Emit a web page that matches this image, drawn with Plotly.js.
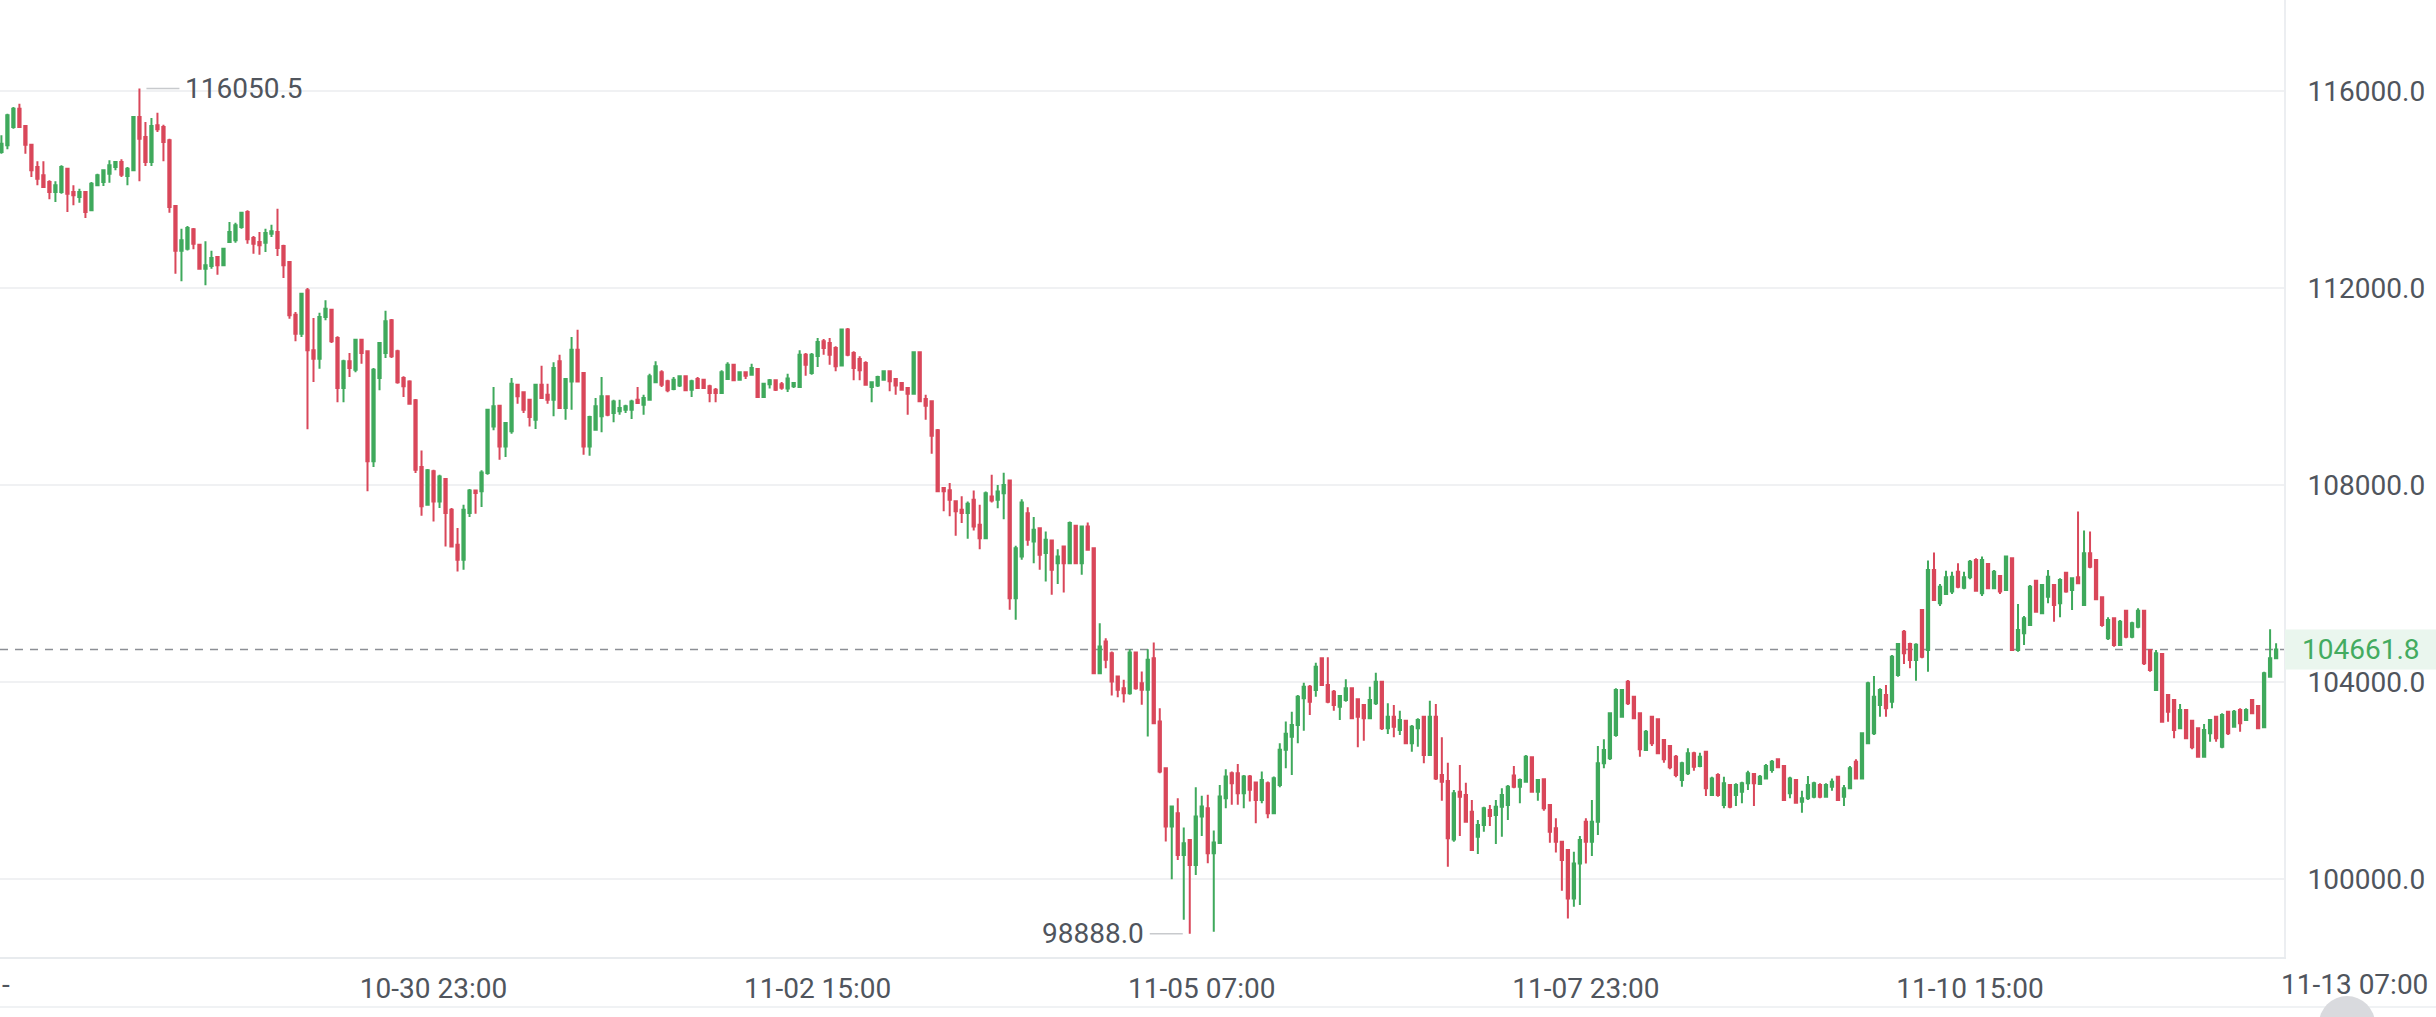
<!DOCTYPE html>
<html>
<head>
<meta charset="utf-8">
<script src="https://cdn.plot.ly/plotly-3.0.1.min.js"></script>
<style>
html,body{margin:0;padding:0;background:#fff;}
#chart{width:2436px;height:1017px;}
</style>
</head>
<body>
<div id="chart"></div>
<script>
// ---- data (hourly candles, first candle 2025-10-27 23:00) ----
const START_TIME = '2025-10-27 23:00';
const OPEN = [
114761,114897,115269,115641,115289,114910,114457,114288,114152,113949,113949,114423,113949,113847,113949,113577,114085,114152,114321,114457,
114558,114274,114389,115472,115066,114558,115303,115269,114998,113665,112758,112798,113191,112880,112392,112446,112629,112460,112934,112968,
113239,113543,113015,112934,112920,113103,113137,112853,112528,111458,111073,111952,110734,110565,111411,111560,110985,109969,110511,110341,
110951,110714,108480,110172,110680,111343,110714,110172,110104,109719,108365,107600,108277,107667,108121,107498,106787,106483,107430,107890,
107871,108243,109190,109610,108784,109089,110036,109881,109732,109326,110036,109834,109732,110511,109563,110104,110748,110274,108784,109123,
109394,109800,109461,109495,109529,109529,109732,109630,109733,110085,110288,110106,109950,110018,110207,109936,110152,110139,110004,109936,
109869,110152,110444,110139,110288,110241,110356,109787,110045,110126,110045,109957,110004,109991,110647,110274,110620,110918,110884,110782,
110424,111155,110681,110559,110478,109991,110018,110139,110308,110153,110072,109970,109855,110694,109747,109699,109110,107939,107892,107668,
107499,107431,107700,107192,106920,107768,107700,107835,108090,105703,106549,107428,106853,107124,106617,106873,106413,106752,106413,107172,
106413,107158,106718,104179,104822,104585,104111,103875,103773,104599,103976,103841,104484,103197,102250,101065,101335,100489,100794,100286,
101268,101437,100523,100733,101640,102148,102148,101742,102080,101958,101606,101945,101335,101911,102622,102890,103127,103668,103905,103838,
104481,103939,103804,103499,103634,103871,103648,103533,103262,103567,104007,103059,103296,103025,103215,102754,103059,103296,102517,103296,
102111,101990,100804,101773,101705,101367,100859,101096,101400,101299,101468,101502,102100,101874,101976,102470,101773,102023,101502,101028,
100757,100588,99606,100317,101163,100757,101163,102348,102450,102924,103296,104007,103702,103364,102619,103296,103242,102822,102700,102484,
102009,102145,102551,102294,102585,101705,102111,101502,101908,101705,101773,101942,102131,101928,102043,102213,102430,102294,101739,102009,
101570,101637,101671,101908,101671,101874,102077,101671,101841,102382,102043,102754,102957,103533,103736,103601,104142,105022,104772,104447,
105462,104650,106275,105598,105787,105835,106241,105916,106126,106478,105801,106397,105902,106153,105869,106512,104650,104988,105158,106058,
105395,105733,105970,105598,106220,105869,106126,105564,106613,106478,105720,104886,105293,104751,105449,104920,105124,105449,104650,103838,
104569,103736,103634,103059,103431,103215,103059,102484,102958,103296,102687,103398,103093,103431,103228,103634,103513,103079,104108,104481
];
const HIGH = [
115100,115540,115675,115743,115303,114930,114572,114572,114186,114166,114491,114437,114085,114017,113949,114152,114321,114403,114592,114572,
114612,114457,115472,116050.5,115370,115452,115560,115316,115032,113678,113205,113259,113218,112900,112948,112758,112650,112812,113340,113327,
113543,113577,113056,113137,113205,113286,113611,112880,112541,111512,111905,112000,111391,111499,111750,111573,111018,110544,110680,110964,
110964,110734,110375,110896,111540,111370,110748,110206,110125,109746,108703,108324,108311,108209,108141,107532,107126,107600,107918,107904,
108297,109543,109989,109630,109272,110172,110057,109901,109746,110057,110423,110057,110490,110646,110172,111005,111154,110287,109407,109766,
110192,109813,109732,109732,109630,109732,109989,109834,110261,110512,110329,110139,110193,110220,110220,110139,110193,110152,110038,109970,
110329,110491,110444,110308,110308,110464,110376,110072,110153,110139,110092,110261,110092,110735,110681,110681,110985,110965,110985,110816,
111168,111189,110715,110613,110512,110085,110220,110329,110329,110173,110085,109991,110715,110715,109835,109720,109137,107959,108041,107668,
107770,107665,107890,107598,107870,108207,108000,108250,108104,106765,107713,107550,107348,107124,107056,106873,106697,106765,107260,107192,
107172,107240,106738,105194,104890,104619,104125,104044,104666,104619,104213,104666,104802,103468,102270,101471,101640,101044,100807,101864,
101688,101708,100983,101911,102229,102182,102337,102114,102114,101979,102182,101979,102080,102757,103198,103398,103736,103986,103939,104393,
104501,104501,103838,103736,104054,103871,103648,103533,103905,104190,104007,103567,103533,103418,103228,103127,103262,103309,103621,103553,
102876,102362,101807,102314,101956,101604,101197,101468,101502,101604,101841,101908,102294,102043,102517,102484,102023,102023,101522,101231,
100777,100602,100554,100872,101231,101603,102700,102836,103377,103871,103851,104041,103716,103377,103025,103309,103262,102822,102721,102518,
102382,102653,102585,102565,102605,102077,102145,102077,101928,101942,101976,102199,102145,102111,102334,102416,102450,102314,102077,102023,
101793,102091,101976,101942,101942,102043,102091,101908,102294,102430,102971,104007,104122,103871,103939,104548,104785,105056,104799,104785,
105476,106465,106627,105990,106261,106241,106410,106241,106478,106512,106546,106410,106275,106173,106559,106512,105584,105340,105970,106072,
105990,106275,105990,106105,106241,106126,107460,107074,107054,106492,105733,105313,105293,105259,105462,105225,105496,105462,104663,104650,
104582,103756,103634,103553,103445,103228,103079,103147,103242,103309,103364,103418,103431,103465,103465,103648,103533,104210,105070,104785
];
const LOW = [
114727,114816,115235,115249,114727,114254,114085,114030,113800,113746,113915,113543,113678,113733,113421,113557,114071,114071,114139,114389,
114254,114085,114369,114166,114477,114477,115167,114572,113529,112291,112135,112764,112785,112379,112054,112392,112270,112446,112920,112920,
113205,112900,112697,112677,112731,113035,112650,112203,111377,110917,111005,109130,110090,110362,111343,110883,109678,109678,110192,110287,
110463,107871,108365,109922,110578,110578,110057,109786,109630,108243,107376,107579,107261,107532,106753,106740,106246,106280,107349,107417,
107552,108209,109110,108514,108568,109042,109651,109461,109190,109136,109746,109651,109394,109563,109326,109529,110084,108615,108595,109110,
109069,109394,109272,109427,109461,109339,109651,109427,109720,110072,109991,109882,109923,109991,109923,109788,109950,109950,109679,109679,
109855,110139,110126,110126,110153,110220,109787,109787,109957,109909,109936,109889,109970,109970,110220,110241,110397,110647,110444,110308,
110410,110613,110126,110126,110038,109679,109991,110126,109902,109835,109923,109428,109835,109699,109327,108637,107851,107465,107364,106971,
107228,106910,107077,106697,106900,107645,107530,107307,105465,105262,106481,106765,106413,106278,106040,105770,105990,105817,106400,106400,
106176,106670,104165,104165,104280,103726,103692,103584,103740,103841,103536,102893,103150,102148,100760,99995,100388,99170,98888,100083,
100875,100320,98930,100733,101437,101505,101505,101437,101572,101132,101539,101234,101321,101864,102250,102111,102754,103012,103330,103702,
103919,103567,103418,103228,103600,103262,102673,102808,103242,103533,103025,102944,102876,102924,102741,102585,102687,102348,102497,102009,
101590,100250,100757,100872,101143,100575,100507,100961,101076,100710,100859,101197,101840,101536,101956,101752,101590,101387,100737,100540,
99762,99200,99437,99471,100317,100466,100893,102247,102416,102890,103282,103533,103242,102484,102605,102700,102538,102362,102226,102064,
101874,102111,102199,102267,101685,101685,101671,101434,101434,101482,101536,101807,101482,101908,102023,102158,102247,101590,101638,101536,
101347,101603,101637,101637,101657,101793,101590,101482,101820,102023,102023,102741,102924,103296,103296,103465,104108,104366,104278,104027,
104481,104210,105652,105544,105767,105787,105902,105882,106085,105835,105747,105882,105882,105787,105855,104636,104616,104751,105138,105408,
105381,105598,105225,105313,105814,105462,105990,105544,106308,105665,105124,104853,104718,104731,104886,104886,105090,104345,104210,103824,
103174,103194,102856,103039,102836,102633,102470,102470,102788,102788,102653,102924,103079,102991,103208,103350,103039,103079,104095,104460
];
const CLOSE = [
114930,115506,115641,115269,114910,114389,114220,114051,113949,114085,114457,113915,113881,113949,113543,114118,114288,114389,114491,114558,
114301,114423,115472,115032,114558,115289,115222,114964,113644,112758,112968,113218,112900,112392,112460,112609,112460,112798,113137,113272,
113530,112988,112900,112866,113117,113150,112812,112460,111445,111073,111884,110734,110565,111411,111580,110917,109969,110511,110375,110951,
110680,108480,110341,110883,111323,110612,110084,110003,109651,108311,107566,108297,107667,108175,107430,106753,106483,107498,107890,107837,
108256,109529,109597,108784,109258,110057,109800,109529,109380,110036,109766,109732,110375,109563,110152,110748,110104,108784,109380,109597,
109800,109427,109698,109563,109597,109698,109664,109766,110207,110410,110038,109923,110139,110207,109923,110106,109970,109970,109869,109869,
110288,110444,110126,110288,110220,110376,109787,110058,110126,109936,109977,110160,110072,110647,110444,110647,110904,110782,110647,110410,
111155,110647,110376,110329,110038,110085,110193,110308,110106,110018,109936,109855,110694,109699,109611,109002,107871,107871,107702,107465,
107431,107620,107158,106920,107835,107686,107870,108000,105703,106718,107645,106887,107090,106583,106887,106278,106549,106413,107226,106413,
107158,106684,104179,104720,104450,104010,103841,103773,104599,103875,103841,104450,103163,102182,101065,101471,100489,100726,100286,101268,
101471,100523,100740,101674,102080,101945,101742,102080,101810,101606,102012,101335,102046,102622,102947,103127,103702,103905,103600,104311,
103939,103600,103533,103716,103871,103262,103296,103262,103634,104007,103059,103296,103093,103228,102754,103093,103228,102517,103296,102043,
101976,100825,101739,101671,101164,100588,101096,101434,101278,101468,101705,101874,101874,102009,102484,101773,102009,101434,100960,100757,
100385,99606,100317,100791,100757,101163,102348,102619,103364,103838,103838,103567,103262,102632,102991,102754,102551,102429,102267,102111,
102348,102551,102281,102484,101841,102043,101705,101942,101468,101908,101942,102145,101942,102077,102294,102382,102267,101604,102043,101549,
101637,101908,101942,101671,101908,101976,101604,101841,102247,102043,102957,103973,103702,103838,103465,104515,104772,104582,104447,104758,
104515,106275,105665,105936,106126,106139,105936,106126,106444,105855,106478,105902,106241,105835,106546,104650,105056,105293,105936,105428,
105970,106139,105564,106072,105835,106105,106004,106613,106342,105679,105158,105259,104751,105225,104920,105192,105449,104379,104244,104582,
103194,103397,103025,103431,102856,102673,102484,103025,103228,102856,103330,102958,103398,103161,103431,103364,103059,104176,104481,104661.8
];
const TICK_TIMES  = ['2025-10-30 23:00','2025-11-02 15:00','2025-11-05 07:00','2025-11-07 23:00','2025-11-10 15:00'];
const TICK_LABELS = ['10-30 23:00','11-02 15:00','11-05 07:00','11-07 23:00','11-10 15:00'];
const EDGE_TICK_TIME = '2025-11-13 07:00';
const EDGE_TICK_LABEL = '11-13 07:00';
const Y_TICKS = [100000, 104000, 108000, 112000, 116000];

// ---- helpers ----
const HOUR = 3600000;
function parseT(s){const [d,t]=s.split(' ');const [Y,M,D]=d.split('-').map(Number);const [h,m]=t.split(':').map(Number);return Date.UTC(Y,M-1,D,h,m);}
function fmt(ms){const d=new Date(ms);const p=n=>String(n).padStart(2,'0');
  return d.getUTCFullYear()+'-'+p(d.getUTCMonth()+1)+'-'+p(d.getUTCDate())+' '+p(d.getUTCHours())+':'+p(d.getUTCMinutes());}
const t0 = parseT(START_TIME);
const N = CLOSE.length;
const TIMES = OPEN.map((_,i)=>fmt(t0+i*HOUR));
const r0 = t0 - 0.22*HOUR, r1 = t0 + (N-1)*HOUR + 1.33*HOUR;

let hi=0, lo=0;
for(let i=0;i<N;i++){ if(HIGH[i]>HIGH[hi]) hi=i; if(LOW[i]<LOW[lo]) lo=i; }
const LAST = CLOSE[N-1];

const GREEN='#3fa95c', RED='#d9475a', TXT='#50555d';
const FONT='Roboto, "Noto Sans", sans-serif';
const FS=28;
const W=2436, H=1017, ML=0, MR=152, MT=0, MB=60;
const PW=W-ML-MR, PH=H-MT-MB;

const trace = {
  type:'candlestick', x:TIMES, open:OPEN, high:HIGH, low:LOW, close:CLOSE,
  increasing:{line:{color:GREEN,width:2}, fillcolor:GREEN},
  decreasing:{line:{color:RED,width:2}, fillcolor:RED},
  whiskerwidth:0, hoverinfo:'skip'
};

const layout = {
  width:W, height:H, margin:{l:ML,r:MR,t:MT,b:MB},
  paper_bgcolor:'#ffffff', plot_bgcolor:'#ffffff',
  showlegend:false, boxgap:0.45, boxgroupgap:0.3,
  font:{family:FONT, size:FS, color:TXT},
  xaxis:{type:'date', range:[fmt(r0),fmt(r1)], rangeslider:{visible:false},
    tickvals:TICK_TIMES, ticktext:TICK_LABELS, showgrid:false, zeroline:false,
    ticks:'', ticklabelstandoff:5, showline:true, linecolor:'#e8ebee', linewidth:2,
    tickfont:{family:FONT,size:FS,color:TXT}},
  yaxis:{side:'right', range:[98416,117848], tickvals:Y_TICKS, tickformat:'.1f',
    showgrid:true, gridcolor:'#f0f1f3', gridwidth:1.5, zeroline:false,
    ticks:'', ticklabelstandoff:16, showline:true, linecolor:'#eceef1', linewidth:2,
    tickfont:{family:FONT,size:FS,color:TXT}},
  shapes:[
    {type:'line', xref:'paper', yref:'y', x0:0, x1:1, y0:LAST, y1:LAST, layer:'between',
     line:{color:'#8c8f95', width:1.5, dash:'8px,7px'}},
    {type:'rect', xref:'paper', yref:'y', x0:1+1/PW, x1:W/PW, ysizemode:'pixel', yanchor:LAST, y0:-20, y1:20,
     fillcolor:'#eaf6ee', line:{width:0}},
    {type:'line', xref:'paper', yref:'paper', x0:0, x1:W/PW, y0:-50/PH, y1:-50/PH,
     line:{color:'#f0f2f4', width:2}},
    {type:'circle', xref:'paper', yref:'paper', xsizemode:'pixel', ysizemode:'pixel',
     xanchor:2347/PW, yanchor:(PH-1024)/PH, x0:-28, x1:28, y0:-28, y1:28,
     fillcolor:'#d9dade', line:{width:0}}
  ],
  annotations:[
    {x:TIMES[hi], y:HIGH[hi], text:HIGH[hi].toFixed(1), showarrow:true, arrowhead:0, arrowwidth:1.5,
     arrowcolor:'#c8cacd', ax:40, ay:0, xanchor:'left', standoff:7, borderpad:5,
     font:{family:FONT,size:FS,color:TXT}},
    {x:TIMES[lo], y:LOW[lo], text:LOW[lo].toFixed(1), showarrow:true, arrowhead:0, arrowwidth:1.5,
     arrowcolor:'#c8cacd', ax:-40, ay:0, xanchor:'right', standoff:7, borderpad:5,
     font:{family:FONT,size:FS,color:TXT}},
    {xref:'paper', yref:'y', x:1, xshift:16, y:LAST, text:LAST.toFixed(1), showarrow:false,
     xanchor:'left', yanchor:'middle', font:{family:FONT,size:FS,color:'#43ab60'}},
    {xref:'paper', yref:'paper', x:(parseT(EDGE_TICK_TIME)-r0)/(r1-r0), y:0, yshift:-9, yanchor:'top',
     xanchor:'center', text:EDGE_TICK_LABEL, showarrow:false, font:{family:FONT,size:FS,color:TXT}},
    {xref:'paper', yref:'paper', x:0, y:0, yshift:-9, yanchor:'top', xanchor:'left',
     text:'-', showarrow:false, font:{family:FONT,size:FS,color:TXT}}
  ]
};

Plotly.newPlot('chart', [trace], layout, {displayModeBar:false, staticPlot:true});
</script>
</body>
</html>
